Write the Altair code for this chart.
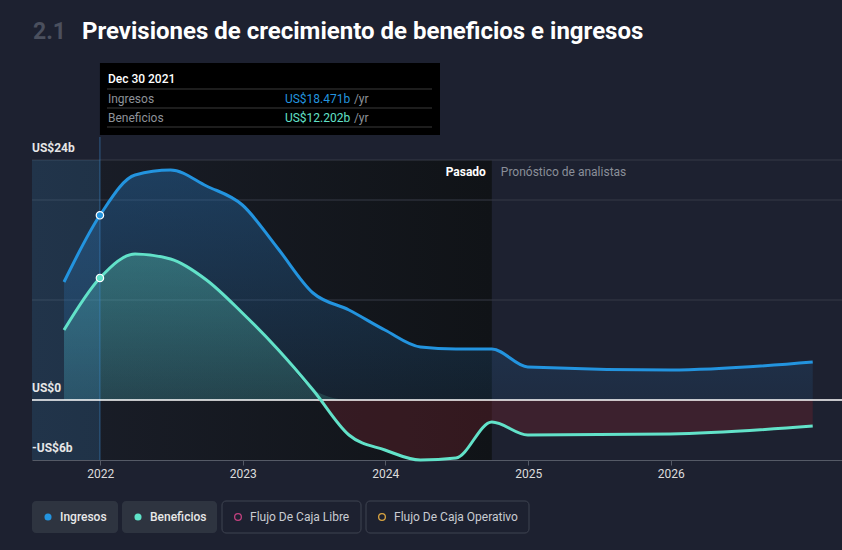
import altair as alt
import pandas as pd

# ---------------- data ----------------
dates = ["2021-09-30", "2021-12-31", "2022-03-31", "2022-06-30", "2022-09-30",
         "2022-12-31", "2023-03-31", "2023-06-30", "2023-09-30", "2023-12-31",
         "2024-03-31", "2024-06-30", "2024-09-30", "2024-12-31", "2025-12-31",
         "2026-12-31"]
ingresos = [11.8, 18.471, 22.5, 23.0, 21.4, 19.5, 15.2, 10.7, 9.0, 7.0,
            5.3, 5.1, 5.1, 3.3, 3.0, 3.8]
beneficios = [7.0, 12.202, 14.6, 14.1, 12.0, 8.7, 5.1, 1.0, -3.5, -5.0,
              -6.0, -5.8, -2.2, -3.5, -3.4, -2.6]

hover_date = "2021-12-31T00:00:00"
hover_label = "Dec 30 2021"
split_date = "2024-09-30T00:00:00"
start_date = "2021-07-10T00:00:00"
year_ticks = [2022, 2023, 2024, 2025, 2026]
y_labels = [24, 0, -6]
y_label_text = ["US$24b", "US$0", "-US$6b"]
grid_values = [10, 20, 24]
legend_names = ["Ingresos", "Beneficios", "Flujo De Caja Libre", "Flujo De Caja Operativo"]
legend_colors = ["#2394df", "#5fe3c8", "#c2417f", "#d9a441"]

BLUE = "#2394df"
TEAL = "#62e2c9"
BG = "#1d2130"

df = pd.DataFrame({
    "date": [d + "T00:00:00" for d in dates],
    "ingresos": ingresos,
    "beneficios": beneficios,
})
df["zero"] = 0.0
df["pos"] = df["beneficios"].clip(lower=0)
df["neg"] = df["beneficios"].clip(upper=0)

x_dom = [alt.DateTime(year=2021, month=7, date=10), alt.DateTime(year=2027, month=3, date=16)]
xs = alt.Scale(domain=x_dom)
ys = alt.Scale(domain=[-6, 24], nice=False, zero=False)
x_axis = alt.Axis(values=[alt.DateTime(year=y, month=1, date=1) for y in year_ticks],
                  format="%Y", title=None, grid=False, labelColor="#dcdcdc",
                  labelFontSize=12, labelFont="Roboto", tickColor="#555a66",
                  domainColor="#555a66", tickSize=5, labelPadding=3)


def XF(field):
    return alt.X(field, scale=xs, axis=x_axis)


X = XF("date:T")
base = alt.Chart(df)

# past region background (gradient)
past_bg = alt.Chart(pd.DataFrame({"a": [start_date], "b": [split_date]})).mark_rect(
    fill=alt.Gradient(gradient="linear", x1=0, x2=1, y1=0, y2=0,
                      stops=[alt.GradientStop(color="#1a1e29", offset=0),
                             alt.GradientStop(color="#101317", offset=1)])
).encode(x=XF("a:T"), x2="b:T", y=alt.value(0), y2=alt.value(300))

grid = alt.Chart(pd.DataFrame({"v": grid_values})).mark_rule(color="#363b47", strokeWidth=1).encode(
    y=alt.Y("v:Q", scale=ys, axis=None)
)

blue_area = base.mark_area(
    interpolate="monotone",
    fill=alt.Gradient(gradient="linear", x1=0, x2=0, y1=0, y2=1,
                      stops=[alt.GradientStop(color="rgba(40,120,190,0.38)", offset=0),
                             alt.GradientStop(color="rgba(40,120,190,0.12)", offset=1)])
).encode(x=X, y=alt.Y("ingresos:Q", scale=ys, axis=None), y2="zero:Q")

teal_pos = base.mark_area(
    interpolate="monotone",
    fill=alt.Gradient(gradient="linear", x1=0, x2=0, y1=0, y2=1,
                      stops=[alt.GradientStop(color="rgba(98,226,201,0.32)", offset=0),
                             alt.GradientStop(color="rgba(98,226,201,0.16)", offset=1)])
).encode(x=X, y=alt.Y("pos:Q", scale=ys, axis=None), y2="zero:Q")

teal_neg = base.mark_area(interpolate="monotone", color="rgba(110,35,45,0.38)").encode(
    x=X, y=alt.Y("neg:Q", scale=ys, axis=None), y2="zero:Q")

band = alt.Chart(pd.DataFrame({"a": [start_date], "b": [hover_date]})).mark_rect(
    color="rgba(60,130,190,0.22)"
).encode(x=XF("a:T"), x2="b:T", y=alt.value(0), y2=alt.value(300))

hd = pd.DataFrame({"d": [hover_date]})
XD = XF("d:T")

hover_rule = alt.Chart(hd).mark_rule(color="rgba(60,140,210,0.55)", strokeWidth=1).encode(
    x=XD, y=alt.value(-23), y2=alt.value(300))

zero = alt.Chart(pd.DataFrame({"v": [0]})).mark_rule(color="#ffffff", strokeWidth=1.3).encode(
    y=alt.Y("v:Q", scale=ys, axis=None))

blue_line = base.mark_line(interpolate="monotone", color=BLUE, strokeWidth=3).encode(
    x=X, y=alt.Y("ingresos:Q", scale=ys, axis=None))
teal_line = base.mark_line(interpolate="monotone", color=TEAL, strokeWidth=3).encode(
    x=X, y=alt.Y("beneficios:Q", scale=ys, axis=None))

hov = df[df["date"] == hover_date]
pt_blue = alt.Chart(hov).mark_point(filled=True, size=55, color=BLUE, stroke="#ffffff",
                                    strokeWidth=1.2, opacity=1).encode(
    x=X, y=alt.Y("ingresos:Q", scale=ys, axis=None))
pt_teal = alt.Chart(hov).mark_point(filled=True, size=55, color=TEAL, stroke="#ffffff",
                                    strokeWidth=1.2, opacity=1).encode(
    x=X, y=alt.Y("beneficios:Q", scale=ys, axis=None))

ylab = alt.Chart(pd.DataFrame({"v": y_labels, "t": y_label_text})).mark_text(
    align="left", baseline="middle", dy=-12, fontSize=12, font="Roboto", fontWeight="bold",
    color="#e6e6e6"
).encode(x=alt.value(0), y=alt.Y("v:Q", scale=ys, axis=None), text="t:N")

split_df = pd.DataFrame({"d": [split_date]})
pasado = alt.Chart(split_df).mark_text(
    align="right", baseline="middle", dx=-6, fontSize=12, font="Roboto", fontWeight="bold",
    color="#ffffff", text="Pasado"
).encode(x=XD, y=alt.value(12))
prono = alt.Chart(split_df).mark_text(
    align="left", baseline="middle", dx=9, fontSize=12, font="Roboto",
    color="#8a8f99", text="Pronóstico de analistas"
).encode(x=XD, y=alt.value(12))

# tooltip box anchored on the hover date
tip_box = alt.Chart(hd).mark_rect(color="#000000").encode(
    x=XD, x2=alt.value(408), y=alt.value(-97), y2=alt.value(-25))
tip_lines = [alt.Chart(hd).mark_rule(color="#3a3a3a", strokeWidth=1).encode(
    x=alt.value(75), x2=alt.value(400), y=alt.value(yy)) for yy in (-71, -52, -33)]


def tip_text(txt, dx, y, color, weight="normal"):
    return alt.Chart(hd).mark_text(align="left", baseline="middle", dx=dx, fontSize=12,
                                   font="Roboto", color=color, fontWeight=weight,
                                   text=txt).encode(x=XD, y=alt.value(y))


tips = [
    tip_text(hover_label, 8, -81, "#ffffff", 500),
    tip_text("Ingresos", 8, -61, "#8e9299"),
    tip_text(f"US${ingresos[1]:.3f}b", 185, -61, BLUE),
    tip_text("/yr", 254, -61, "#8e9299"),
    tip_text("Beneficios", 8, -42, "#8e9299"),
    tip_text(f"US${beneficios[1]:.3f}b", 185, -42, TEAL),
    tip_text("/yr", 254, -42, "#8e9299"),
]

title_num = alt.Chart(hd).mark_text(align="left", baseline="middle", fontSize=23, font="Roboto",
                                    fontWeight="bold", color="#4b505e", text="2.1").encode(
    x=alt.value(1), y=alt.value(-128))
title_txt = alt.Chart(hd).mark_text(align="left", baseline="middle", fontSize=24, font="Roboto",
                                    fontWeight="bold", color="#ffffff",
                                    text="Previsiones de crecimiento de beneficios e ingresos").encode(
    x=alt.value(50), y=alt.value(-128))

# legend buttons
box_x = [0, 90, 190, 334]
box_x2 = [86, 185, 329, 497]
filled = [True, True, False, False]
leg_boxes = []
leg_marks = []
for i, name in enumerate(legend_names):
    if filled[i]:
        leg_boxes.append(alt.Chart(hd).mark_rect(color="#2e3440", cornerRadius=4).encode(
            x=alt.value(box_x[i]), x2=alt.value(box_x2[i]), y=alt.value(341), y2=alt.value(373)))
        leg_marks.append(alt.Chart(hd).mark_point(filled=True, size=50, color=legend_colors[i],
                                                  opacity=1).encode(
            x=alt.value(box_x[i] + 16), y=alt.value(357)))
    else:
        leg_boxes.append(alt.Chart(hd).mark_rect(fill=BG, stroke="#3f4451", strokeWidth=1,
                                                 cornerRadius=4).encode(
            x=alt.value(box_x[i]), x2=alt.value(box_x2[i]), y=alt.value(341), y2=alt.value(373)))
        leg_marks.append(alt.Chart(hd).mark_point(filled=False, size=45, color=legend_colors[i],
                                                  strokeWidth=1.3, opacity=1).encode(
            x=alt.value(box_x[i] + 16), y=alt.value(357)))
    leg_marks.append(alt.Chart(hd).mark_text(align="left", baseline="middle", fontSize=12,
                                             font="Roboto",
                                             fontWeight=500 if filled[i] else "normal",
                                             color="#e8e8e8" if filled[i] else "#c9ccd2",
                                             text=name).encode(
        x=alt.value(box_x[i] + 28), y=alt.value(357)))

chart = alt.layer(
    past_bg, grid, blue_area, teal_pos, teal_neg, band, hover_rule, zero,
    blue_line, teal_line, pt_blue, pt_teal, ylab, pasado, prono,
    tip_box, *tip_lines, *tips, title_num, title_txt, *leg_boxes, *leg_marks
).properties(
    width=810, height=300,
    padding={"left": 32, "top": 160, "right": 0, "bottom": 90},
    autosize=alt.AutoSizeParams(type="none"),
    background=BG,
).configure_view(stroke=None)

chart.save("out.html", embed_options={"renderer": "svg", "actions": False})
